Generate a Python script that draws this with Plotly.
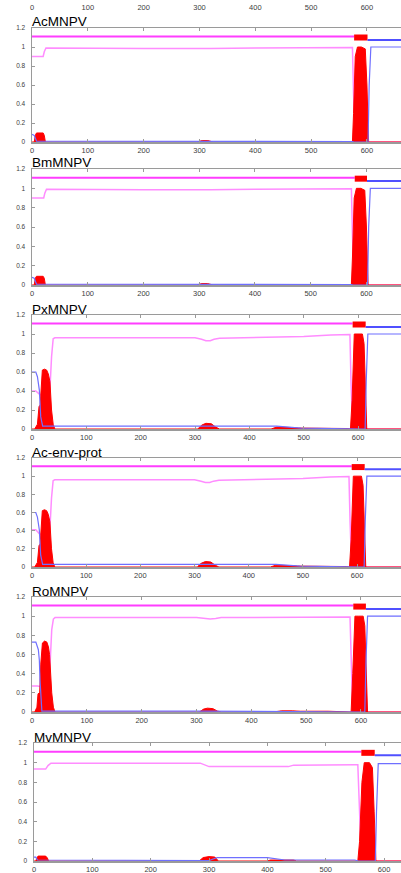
import plotly.graph_objects as go

# ---------------- data ----------------
NAMES = ["AcMNPV", "BmMNPV", "PxMNPV", "Ac-env-prot", "RoMNPV", "MvMNPV"]
X_TICKS = [0, 100, 200, 300, 400, 500, 600]
Y_TICKS = [0, 0.2, 0.4, 0.6, 0.8, 1.0, 1.2]
Y_TICK_TEXT = ["0", "0.2", "0.4", "0.6", "0.8", "1", "1.2"]

# AcMNPV
AC_TM_X = [0, 4, 6, 8, 20, 22, 24, 295, 305, 315, 325, 574, 576, 579, 583, 590, 597, 600, 603, 690]
AC_TM_Y = [0, 0, 0.07, 0.095, 0.095, 0.07, 0, 0, 0.015, 0.015, 0, 0, 0.3, 0.9, 1.0, 1.0, 0.98, 0.6, 0, 0]
AC_IN_X = [0, 4, 8, 300, 574, 577, 602, 604, 607, 690]
AC_IN_Y = [0.08, 0.07, 0.01, 0.01, 0.005, 0, 0, 0.6, 1.0, 1.0]
AC_OUT_X = [0, 20, 22, 25, 200, 300, 320, 400, 574, 576, 579, 690]
AC_OUT_Y = [0.9, 0.9, 0.95, 0.99, 0.985, 0.98, 0.985, 0.99, 0.995, 0.5, 0, 0]
AC_TOPO = [577, 601, 690]

# BmMNPV
BM_TM_X = [0, 4, 6, 8, 20, 22, 24, 295, 305, 315, 325, 573, 575, 578, 582, 590, 597, 600, 603, 690]
BM_TM_Y = [0, 0, 0.07, 0.09, 0.09, 0.07, 0, 0, 0.015, 0.015, 0, 0, 0.3, 0.9, 1.0, 1.0, 0.98, 0.6, 0, 0]
BM_IN_X = [0, 4, 8, 300, 573, 576, 602, 604, 607, 690]
BM_IN_Y = [0.08, 0.07, 0.01, 0.01, 0.005, 0, 0, 0.6, 1.0, 1.0]
BM_OUT_X = [0, 21, 23, 26, 200, 300, 320, 400, 573, 575, 578, 690]
BM_OUT_Y = [0.9, 0.9, 0.95, 0.99, 0.985, 0.98, 0.985, 0.99, 0.995, 0.5, 0, 0]
BM_TOPO = [579, 601, 690]

# PxMNPV
PX_TM_X = [0, 5, 10, 13, 15, 17, 19, 23, 27, 30, 33, 36, 39, 42, 305, 312, 320, 330, 338, 345,
           440, 450, 470, 480, 490, 540, 580, 586, 589, 593, 600, 608, 611, 614, 616, 690]
PX_TM_Y = [0, 0, 0.05, 0.24, 0.25, 0.5, 0.62, 0.63, 0.62, 0.58, 0.5, 0.2, 0.05, 0, 0, 0.04, 0.06, 0.055, 0.02, 0,
           0, 0.02, 0.02, 0.015, 0.01, 0.01, 0.005, 0, 0.3, 1.0, 1.0, 1.0, 0.9, 0.3, 0, 0]
PX_IN_X = [0, 7, 10, 13.5, 16, 19.6, 30, 300, 450, 495, 585, 588, 613, 615, 618, 690]
PX_IN_Y = [0.6, 0.6, 0.55, 0.41, 0.13, 0.03, 0.03, 0.03, 0.03, 0.01, 0.005, 0, 0, 0.5, 1.0, 1.0]
PX_OUT_X = [0, 7, 13, 20, 30, 33, 36, 39, 42, 300, 312, 320, 328, 335, 345, 450, 500, 550, 585, 587, 590, 690]
PX_OUT_Y = [0.4, 0.4, 0.37, 0.35, 0.38, 0.42, 0.76, 0.95, 0.96, 0.96, 0.945, 0.93, 0.93, 0.945, 0.955,
            0.965, 0.975, 0.99, 0.995, 0.5, 0, 0]
PX_TOPO = [590, 614, 690]

# Ac-env-prot
ENV_TM_X = [0, 5, 10, 13, 15, 17, 19, 23, 27, 30, 33, 36, 39, 42, 305, 312, 320, 330, 338, 345,
            440, 450, 470, 480, 490, 540, 580, 586, 589, 593, 600, 608, 611, 614, 616, 690]
ENV_TM_Y = [0, 0, 0.05, 0.24, 0.25, 0.5, 0.62, 0.63, 0.62, 0.58, 0.5, 0.2, 0.05, 0, 0, 0.04, 0.06, 0.055, 0.02, 0,
            0, 0.02, 0.02, 0.015, 0.01, 0.01, 0.005, 0, 0.3, 1.0, 1.0, 1.0, 0.9, 0.3, 0, 0]
ENV_IN_X = [0, 7, 10, 13.5, 16, 19.6, 30, 300, 450, 495, 585, 588, 613, 615, 618, 690]
ENV_IN_Y = [0.6, 0.6, 0.55, 0.41, 0.13, 0.03, 0.03, 0.03, 0.03, 0.01, 0.005, 0, 0, 0.5, 1.0, 1.0]
ENV_OUT_X = [0, 7, 13, 20, 30, 33, 36, 39, 42, 300, 312, 320, 328, 335, 345, 450, 500, 550, 585, 587, 590, 690]
ENV_OUT_Y = [0.41, 0.41, 0.37, 0.35, 0.38, 0.42, 0.76, 0.95, 0.96, 0.96, 0.945, 0.93, 0.93, 0.945, 0.955,
             0.965, 0.975, 0.99, 0.995, 0.5, 0, 0]
ENV_TOPO = [590, 614, 690]

# RoMNPV
RO_TM_X = [0, 5, 9, 11, 14, 16, 19, 23, 27, 30, 32, 36, 39, 42, 305, 313, 320, 330, 338, 345,
           440, 455, 475, 490, 540, 578, 582, 585, 589, 596, 604, 607, 610, 612, 690]
RO_TM_Y = [0, 0, 0.05, 0.19, 0.2, 0.5, 0.72, 0.74, 0.73, 0.68, 0.6, 0.2, 0.05, 0, 0, 0.03, 0.04, 0.035, 0.01, 0,
           0, 0.012, 0.012, 0.008, 0.008, 0.005, 0, 0.4, 1.0, 1.0, 1.0, 0.9, 0.3, 0, 0]
RO_IN_X = [0, 7, 11.6, 13.4, 14.6, 16.4, 18, 300, 582, 584, 607, 609, 612, 690]
RO_IN_Y = [0.73, 0.73, 0.65, 0.54, 0.33, 0.06, 0.01, 0.01, 0.005, 0, 0, 0.5, 1.0, 1.0]
RO_OUT_X = [0, 10, 20, 30, 33, 36, 39, 42, 300, 315, 325, 335, 345, 580, 582, 585, 690]
RO_OUT_Y = [0.27, 0.27, 0.26, 0.26, 0.5, 0.86, 0.97, 0.985, 0.985, 0.975, 0.97, 0.975, 0.985, 0.99, 0.5, 0, 0]
RO_TOPO = [586, 609, 690]

# MvMNPV
MV_TM_X = [0, 3, 5, 7, 20, 23, 25, 283, 290, 300, 310, 316, 400, 405, 445, 450,
           555, 558, 562, 566, 575, 580, 583, 586, 660]
MV_TM_Y = [0, 0, 0.03, 0.05, 0.05, 0.03, 0, 0, 0.035, 0.045, 0.04, 0, 0, 0.01, 0.01, 0,
           0, 0.2, 0.8, 1.0, 1.0, 0.95, 0.5, 0, 0]
MV_IN_X = [0, 3, 6, 300, 314, 400, 430, 550, 556, 585, 587, 590, 660]
MV_IN_Y = [0.04, 0.04, 0.01, 0.005, 0.035, 0.035, 0.01, 0.01, 0, 0, 0.5, 0.99, 0.99]
MV_OUT_X = [0, 20, 24, 29, 285, 295, 300, 436, 445, 550, 555, 558, 561, 660]
MV_OUT_Y = [0.935, 0.935, 0.97, 0.995, 0.995, 0.97, 0.96, 0.96, 0.975, 0.98, 0.98, 0.5, 0, 0]
MV_TOPO = [561, 584, 660]

# topology bar levels (TMHMM convention)
OUT_LEVEL = 1.11
TM_LEVEL = 1.1
IN_LEVEL = 1.075

PANELS = [
    (AC_TM_X, AC_TM_Y, AC_IN_X, AC_IN_Y, AC_OUT_X, AC_OUT_Y, AC_TOPO),
    (BM_TM_X, BM_TM_Y, BM_IN_X, BM_IN_Y, BM_OUT_X, BM_OUT_Y, BM_TOPO),
    (PX_TM_X, PX_TM_Y, PX_IN_X, PX_IN_Y, PX_OUT_X, PX_OUT_Y, PX_TOPO),
    (ENV_TM_X, ENV_TM_Y, ENV_IN_X, ENV_IN_Y, ENV_OUT_X, ENV_OUT_Y, ENV_TOPO),
    (RO_TM_X, RO_TM_Y, RO_IN_X, RO_IN_Y, RO_OUT_X, RO_OUT_Y, RO_TOPO),
    (MV_TM_X, MV_TM_Y, MV_IN_X, MV_IN_Y, MV_OUT_X, MV_OUT_Y, MV_TOPO),
]

# ---------------- layout geometry (pixels) ----------------
W, H = 401, 873
PANEL_TOP = [28, 169, 315, 458, 597, 743]
PANEL_BOT = [142, 285, 429, 567, 712, 861]
PANEL_LEFT = [32, 32, 32, 32, 32, 34]
X_MAX = [661, 662, 679, 681, 673, 629]

C_OUT = "#ff8cff"
C_OUT_BAR = "#ff3dff"
C_IN = "#6f6fff"
C_IN_BAR = "#5050ff"
C_TM = "#ff0000"
AX_COL = "#9a9a9a"
XTICK_FONT = dict(family="Liberation Sans, Arial, sans-serif", size=7.5, color="#404040")
YTICK_FONT = dict(family="Liberation Sans, Arial, sans-serif", size=6.5, color="#404040")

fig = go.Figure()
layout = dict(
    width=W, height=H, margin=dict(l=0, r=0, t=0, b=0),
    paper_bgcolor="white", plot_bgcolor="white", showlegend=False,
    annotations=[],
)

for i, (tmx, tmy, inx, iny, outx, outy, topo) in enumerate(PANELS):
    n = i + 1
    xa = "x" if n == 1 else f"x{n}"
    ya = "y" if n == 1 else f"y{n}"
    # probability curves
    fig.add_trace(go.Scatter(x=outx, y=outy, xaxis=xa, yaxis=ya, mode="lines",
                             line=dict(color=C_OUT, width=1.5), hoverinfo="skip"))
    fig.add_trace(go.Scatter(x=tmx, y=tmy, xaxis=xa, yaxis=ya, mode="lines", fill="tozeroy",
                             fillcolor=C_TM, line=dict(color=C_TM, width=1), hoverinfo="skip"))
    fig.add_trace(go.Scatter(x=inx, y=iny, xaxis=xa, yaxis=ya, mode="lines",
                             line=dict(color=C_IN, width=1.2), hoverinfo="skip"))
    # topology bar
    fig.add_trace(go.Scatter(x=[0, topo[0]], y=[OUT_LEVEL, OUT_LEVEL], xaxis=xa, yaxis=ya, mode="lines",
                             line=dict(color=C_OUT_BAR, width=2), hoverinfo="skip"))
    fig.add_trace(go.Scatter(x=[topo[0], topo[1]], y=[TM_LEVEL, TM_LEVEL], xaxis=xa, yaxis=ya, mode="lines",
                             line=dict(color=C_TM, width=6), hoverinfo="skip"))
    fig.add_trace(go.Scatter(x=[topo[1], topo[2]], y=[IN_LEVEL, IN_LEVEL], xaxis=xa, yaxis=ya, mode="lines",
                             line=dict(color=C_IN_BAR, width=2), hoverinfo="skip"))

    xkey = "xaxis" if n == 1 else f"xaxis{n}"
    ykey = "yaxis" if n == 1 else f"yaxis{n}"
    layout[xkey] = dict(
        domain=[PANEL_LEFT[i] / W, 1], range=[0, X_MAX[i]], anchor=ya,
        tickvals=X_TICKS, showline=True, linecolor=AX_COL, linewidth=1.5, mirror="ticks",
        ticks="inside", ticklen=3, tickcolor=AX_COL, showgrid=False, zeroline=False,
        tickfont=XTICK_FONT, automargin=False, fixedrange=True,
    )
    layout[ykey] = dict(
        domain=[1 - PANEL_BOT[i] / H, 1 - PANEL_TOP[i] / H], range=[0, 1.2], anchor=xa,
        tickvals=Y_TICKS, ticktext=Y_TICK_TEXT, showline=True, linecolor=AX_COL, linewidth=1.5,
        ticks="inside", ticklen=3, tickcolor=AX_COL, showgrid=False, zeroline=False,
        tickfont=YTICK_FONT, automargin=False, fixedrange=True, ticklabelstandoff=4,
    )
    layout["annotations"].append(dict(
        text=NAMES[i], xref="paper", yref="paper", x=(PANEL_LEFT[i] - 1) / W, y=1 - PANEL_TOP[i] / H,
        xanchor="left", yanchor="bottom", showarrow=False, yshift=-2.5, borderpad=0,
        font=dict(family="Liberation Sans, Arial, sans-serif", size=13.5, color="#000000"),
    ))

# top strip of tick labels (belongs to a panel cropped above)
layout["xaxis7"] = dict(
    domain=[PANEL_LEFT[0] / W, 1], range=[0, X_MAX[0]], anchor="y7", tickvals=X_TICKS,
    showline=False, ticks="", showgrid=False, zeroline=False, tickfont=XTICK_FONT,
    automargin=False, fixedrange=True,
)
layout["yaxis7"] = dict(domain=[1 - 1 / H, 1], visible=False, range=[0, 1], fixedrange=True)
fig.add_trace(go.Scatter(x=[None], y=[None], xaxis="x7", yaxis="y7", mode="lines", hoverinfo="skip"))

fig.update_layout(**layout)
fig.write_html(
    "out.html",
    config={"displayModeBar": False, "staticPlot": True},
    post_script="document.body.style.margin='0';document.body.style.overflow='hidden';",
)
